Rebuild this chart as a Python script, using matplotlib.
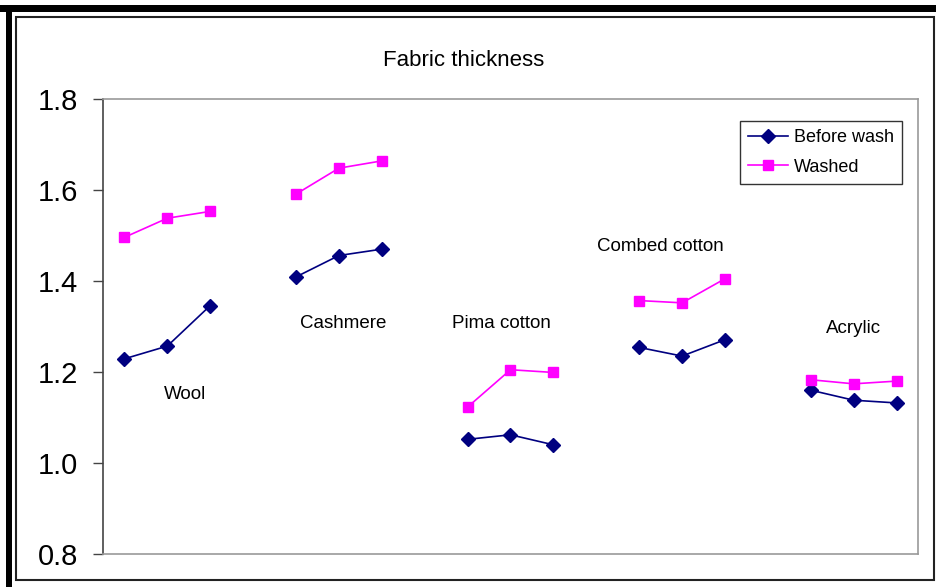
import matplotlib
matplotlib.use("Agg")
import matplotlib.pyplot as plt
from matplotlib.patches import Rectangle
import numpy as np

plt.rcParams['font.family'] = ['Liberation Sans', 'DejaVu Sans']

fabrics = ["Wool", "Cashmere", "Pima cotton", "Combed cotton", "Acrylic"]
before_wash = [
    [1.229, 1.257, 1.346],
    [1.409, 1.456, 1.470],
    [1.052, 1.062, 1.040],
    [1.254, 1.235, 1.271],
    [1.160, 1.138, 1.132],
]
washed = [
    [1.496, 1.538, 1.553],
    [1.591, 1.648, 1.664],
    [1.123, 1.205, 1.199],
    [1.357, 1.352, 1.405],
    [1.183, 1.174, 1.180],
]
# label anchor positions (data coords)
label_x = [1.42, 5.11, 8.78, 12.49, 17.0]
label_y = [1.150, 1.307, 1.307, 1.475, 1.295]
yticks = [0.8, 1.0, 1.2, 1.4, 1.6, 1.8]

W, H = 937, 587
fig = plt.figure(figsize=(W / 100, H / 100), dpi=100)
fig.patch.set_facecolor('white')

def frect(x0, y0, x1, y1, **kw):
    fig.patches.append(Rectangle((x0 / W, 1 - y1 / H), (x1 - x0) / W, (y1 - y0) / H,
                                 transform=fig.transFigure, figure=fig, **kw))

frect(0, 5, W, 12, facecolor='black', edgecolor='none')
frect(6, 5, 12, H, facecolor='black', edgecolor='none')
frect(16, 17, 934, 580, facecolor='none', edgecolor='#222222', linewidth=1.5)

ax = fig.add_axes([103 / W, 1 - 554 / H, (918 - 103) / W, (554 - 99) / H])

navy = '#000080'
mag = '#FF00FF'
for g in range(len(fabrics)):
    xs = np.arange(3) + 4 * g
    ax.plot(xs, before_wash[g], color=navy, marker='D', markersize=7, linewidth=1.2,
            label='Before wash' if g == 0 else None)
    ax.plot(xs, washed[g], color=mag, marker='s', markersize=7, linewidth=1.2,
            label='Washed' if g == 0 else None)
    ax.text(label_x[g], label_y[g], fabrics[g], ha='center', va='center', fontsize=13.5)

ax.set_xlim(-0.5, 18.5)
ax.set_ylim(0.8, 1.8)
ax.set_yticks(yticks)
ax.set_yticklabels([f"{v:.1f}" for v in yticks], fontsize=21)
ax.set_xticks([])
ax.tick_params(axis='y', direction='out', length=7, width=1, color='#444444', pad=11)
for s in ['top', 'right', 'bottom']:
    ax.spines[s].set_color('#999999')
    ax.spines[s].set_linewidth(1.2)
ax.spines['left'].set_color('#444444')
ax.spines['left'].set_linewidth(1.2)

fig.text(464 / W, 1 - 61 / H, "Fabric thickness", ha='center', va='center', fontsize=16)

leg = ax.legend(loc='upper right', bbox_to_anchor=(0.980, 0.952), borderaxespad=0,
                fontsize=13, frameon=True, fancybox=False, handlelength=2.2,
                handletextpad=0.3, borderpad=0.45, labelspacing=0.7)
leg.get_frame().set_edgecolor('black')
leg.get_frame().set_linewidth(1.0)

fig.savefig('out.png', dpi=100, facecolor='white')
